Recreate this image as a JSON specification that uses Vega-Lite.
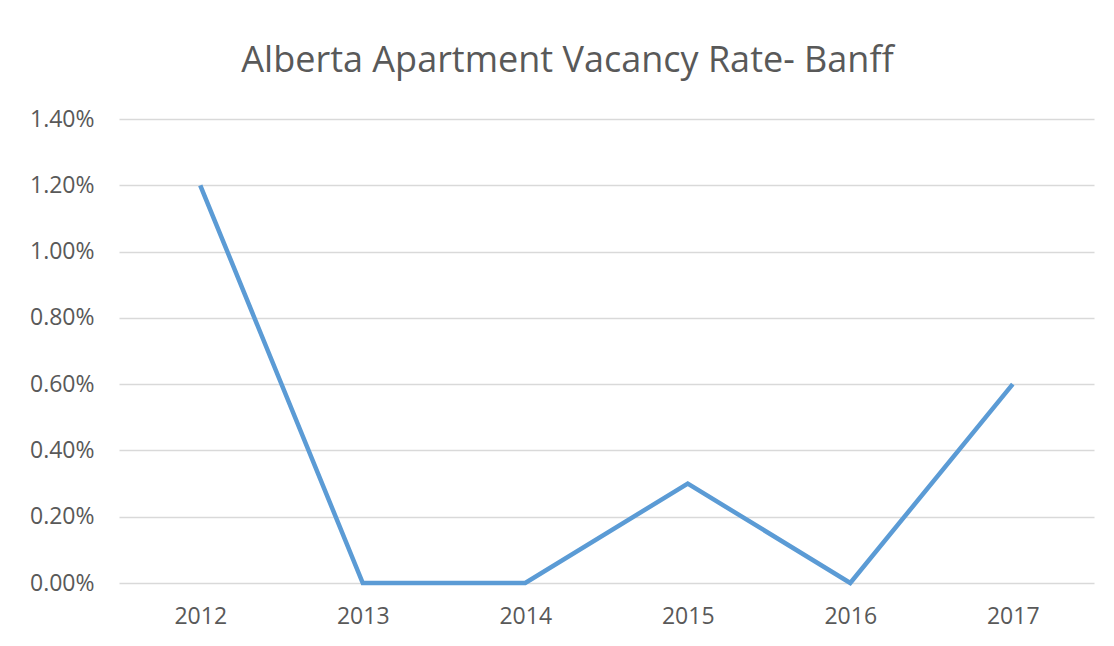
{
  "$schema": "https://vega.github.io/schema/vega-lite/v6.json",
  "width": 975,
  "height": 464,
  "autosize": {"type": "none"},
  "padding": {"left": 119, "top": 119, "right": 20, "bottom": 63},
  "background": "white",
  "title": {
    "text": "Alberta Apartment Vacancy Rate- Banff",
    "font": "Open Sans",
    "fontSize": 36,
    "fontWeight": "normal",
    "color": "#595959",
    "anchor": "middle",
    "baseline": "alphabetic",
    "offset": 0,
    "dx": -39
  },
  "data": {
    "values": [
      {"year": "2012", "rate": 0.012},
      {"year": "2013", "rate": 0.0},
      {"year": "2014", "rate": 0.0},
      {"year": "2015", "rate": 0.003},
      {"year": "2016", "rate": 0.0},
      {"year": "2017", "rate": 0.006}
    ]
  },
  "mark": {"type": "line", "color": "#5B9BD5", "strokeWidth": 4.5, "strokeCap": "butt", "strokeJoin": "miter"},
  "encoding": {
    "x": {
      "field": "year",
      "type": "ordinal",
      "scale": {"padding": 0.5},
      "axis": {
        "title": null,
        "labelAngle": 0,
        "ticks": false,
        "domain": false,
        "grid": false,
        "labelFont": "Open Sans",
        "labelFontSize": 23,
        "labelColor": "#595959",
        "labelPadding": 22
      }
    },
    "y": {
      "field": "rate",
      "type": "quantitative",
      "scale": {"domain": [0, 0.014], "nice": false},
      "axis": {
        "title": null,
        "values": [0, 0.002, 0.004, 0.006, 0.008, 0.01, 0.012, 0.014],
        "format": ".2%",
        "ticks": false,
        "domain": false,
        "grid": true,
        "gridColor": "#D9D9D9",
        "gridWidth": 1.3,
        "labelFont": "Open Sans",
        "labelFontSize": 23,
        "labelColor": "#595959",
        "labelPadding": 25
      }
    }
  },
  "config": {"view": {"stroke": null}}
}
